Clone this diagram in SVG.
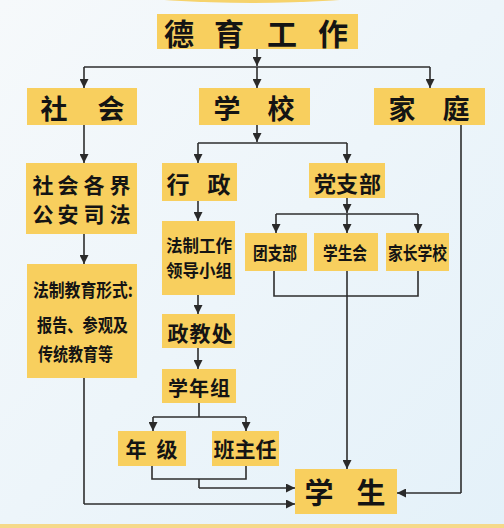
<svg xmlns="http://www.w3.org/2000/svg" width="504" height="528" viewBox="0 0 504 528">
<defs>
<linearGradient id="bg" x1="0" y1="0" x2="1" y2="1">
<stop offset="0" stop-color="#f6f9fb"/>
<stop offset="1" stop-color="#e4f1f9"/>
</linearGradient>
<marker id="arr" viewBox="0 0 10 10" refX="10" refY="5" markerWidth="9" markerHeight="9" markerUnits="userSpaceOnUse" orient="auto">
<path d="M0,0 L10,5 L0,10 Z" fill="#2a2a2a"/>
</marker>
<style>
.box{fill:#f8cf5e;}
.t{font-family:"Noto Sans CJK SC","Noto Sans CJK JP",sans-serif;font-weight:bold;fill:#141414;text-anchor:middle;dominant-baseline:central;}
.s{text-anchor:start;}
.ln{fill:none;stroke:#2e2e2e;stroke-width:1.6;}
.ar{fill:none;stroke:#2e2e2e;stroke-width:1.6;marker-end:url(#arr);}
</style>
</defs>
<rect width="504" height="528" fill="url(#bg)"/>
<ellipse cx="252" cy="-30" rx="210" ry="33" fill="#f6d36c"/>
<rect x="0" y="524" width="504" height="4" fill="#f5d98a"/>

<g id="connectors">
<path class="ar" d="M257,49 V66"/>
<path class="ln" d="M84,67 H430"/>
<path class="ar" d="M84,67 V88"/>
<path class="ar" d="M257,67 V88"/>
<path class="ar" d="M430,67 V88"/>
<path class="ar" d="M84,125 V163"/>
<path class="ar" d="M84,234 V264"/>
<path class="ln" d="M84,378 V504"/>
<path class="ar" d="M84,504 H295"/>
<path class="ar" d="M257,125 V142"/>
<path class="ln" d="M198,143 H347"/>
<path class="ar" d="M198,143 V163"/>
<path class="ar" d="M347,143 V163"/>
<path class="ar" d="M347,198 V213"/>
<path class="ln" d="M276,214 H418"/>
<path class="ar" d="M276,214 V233"/>
<path class="ar" d="M347,214 V233"/>
<path class="ar" d="M418,214 V233"/>
<path class="ln" d="M274,271 V296 H418 V271"/>
<path class="ar" d="M347,271 V469"/>
<path class="ln" d="M461,125 V493"/>
<path class="ar" d="M461,493 H397"/>
<path class="ar" d="M198,201 V221"/>
<path class="ar" d="M198,295 V314"/>
<path class="ar" d="M198,348 V369"/>
<path class="ln" d="M199,403 V417"/>
<path class="ln" d="M153,417 H246"/>
<path class="ar" d="M153,417 V431"/>
<path class="ar" d="M246,417 V431"/>
<path class="ln" d="M152,466 V479 H246 V466"/>
<path class="ln" d="M199,479 V488"/>
<path class="ar" d="M199,488 H295"/>
</g>

<g id="n-deyu"><rect class="box" x="157" y="14" width="201" height="35"/><text class="t" x="179 229 282 333" y="32" font-size="30">德育工作</text></g>
<g id="n-shehui"><rect class="box" x="27" y="88" width="110" height="37"/><text class="t" x="54 111" y="107" font-size="27">社会</text></g>
<g id="n-xuexiao"><rect class="box" x="199" y="88" width="111" height="37"/><text class="t" x="227 281" y="107" font-size="27">学校</text></g>
<g id="n-jiating"><rect class="box" x="374" y="88" width="111" height="37"/><text class="t" x="402 456" y="107" font-size="27">家庭</text></g>
<g id="n-shehuigejie"><rect class="box" x="26" y="163" width="111" height="71"/><text class="t" font-size="21"><tspan x="43 68 94 120" y="184">社会各界</tspan><tspan x="43 68 94 120" y="213">公安司法</tspan></text></g>
<g id="n-fazhijiaoyu"><rect class="box" x="27" y="264" width="110" height="114"/><text class="t s" font-size="18"><tspan x="33" y="289" textLength="100" lengthAdjust="spacingAndGlyphs">法制教育形式:</tspan><tspan x="37" y="324" textLength="91" lengthAdjust="spacingAndGlyphs">报告、参观及</tspan><tspan x="38" y="353" textLength="75" lengthAdjust="spacingAndGlyphs">传统教育等</tspan></text></g>
<g id="n-xingzheng"><rect class="box" x="162" y="163" width="75" height="38"/><text class="t" x="178 219" y="183" font-size="23">行政</text></g>
<g id="n-fazhigongzuo"><rect class="box" x="162" y="221" width="73" height="74"/><text class="t s" font-size="17"><tspan x="166" y="244" textLength="66" lengthAdjust="spacingAndGlyphs">法制工作</tspan><tspan x="166" y="269" textLength="66" lengthAdjust="spacingAndGlyphs">领导小组</tspan></text></g>
<g id="n-zhengjiaochu"><rect class="box" x="162" y="314" width="73" height="34"/><text class="t" x="178 200 222" y="332" font-size="21">政教处</text></g>
<g id="n-xueniazu"><rect class="box" x="162" y="369" width="74" height="34"/><text class="t" x="178 199 220" y="387" font-size="20">学年组</text></g>
<g id="n-nianji"><rect class="box" x="118" y="431" width="68" height="35"/><text class="t" x="136 167" y="448" font-size="21">年级</text></g>
<g id="n-banzhuren"><rect class="box" x="212" y="431" width="67" height="35"/><text class="t" x="224 245 266" y="448" font-size="21">班主任</text></g>
<g id="n-dangzhibu"><rect class="box" x="309" y="163" width="76" height="35"/><text class="t" x="325 347 370" y="182" font-size="22">党支部</text></g>
<g id="n-tuanzhibu"><rect class="box" x="245" y="233" width="62" height="38"/><text class="t s" x="253" y="252" font-size="18" textLength="44" lengthAdjust="spacingAndGlyphs">团支部</text></g>
<g id="n-xueshenghui"><rect class="box" x="314" y="233" width="64" height="38"/><text class="t s" x="323" y="252" font-size="18" textLength="44" lengthAdjust="spacingAndGlyphs">学生会</text></g>
<g id="n-jiazhang"><rect class="box" x="386" y="233" width="63" height="38"/><text class="t s" x="388" y="252" font-size="18" textLength="59" lengthAdjust="spacingAndGlyphs">家长学校</text></g>
<g id="n-xuesheng"><rect class="box" x="295" y="469" width="102" height="45"/><text class="t" x="319 371" y="491" font-size="29">学生</text></g>
</svg>
